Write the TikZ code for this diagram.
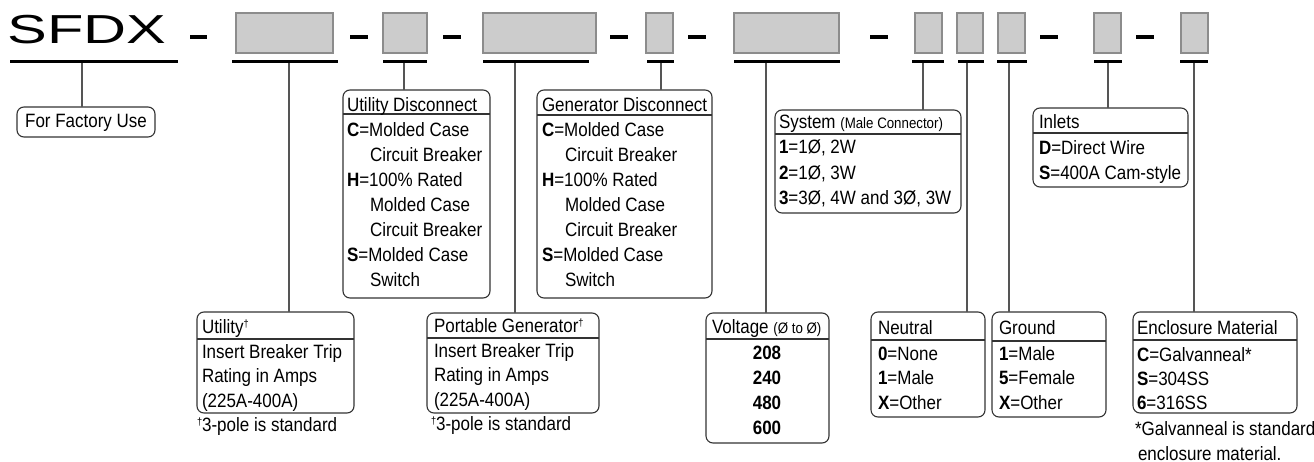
\documentclass[tikz,border=0pt]{standalone}
\usepackage{fontspec}
\setmainfont[FakeStretch=0.88]{Liberation Sans}
\newfontfamily\sfdxfont{Liberation Sans}
\usepackage{graphicx}
\definecolor{slotfill}{HTML}{CCCCCC}
\definecolor{slotline}{HTML}{8C8C8C}
\definecolor{framecol}{HTML}{333333}
\definecolor{conncol}{HTML}{555555}
\newcommand{\mainsz}{\fontsize{19.3}{25}\selectfont}
\newcommand{\smallsz}{\fontsize{15.1}{16}\selectfont}
\newcommand{\dg}{\raisebox{5.5pt}{\fontsize{10.5}{10.5}\selectfont †}}
\newcommand{\ind}{\hspace*{23pt}}
\tikzset{
  keyframe/.style={draw=framecol, line width=1.1pt, rounded corners=7pt, inner sep=0pt, outer sep=0pt},
  keysep/.style={draw=framecol, line width=1.1pt},
  slot/.style={draw=slotline, fill=slotfill, line width=1.6pt, inner sep=0pt, outer sep=0pt},
  bar/.style={fill=black, draw=none, inner sep=0pt, outer sep=0pt},
  conn/.style={draw=conncol, line width=1.2pt},
  txt/.style={inner sep=0pt, outer sep=0pt, font=\mainsz},
}
% name, x1, y1, x2, y2, sepY
\newcommand{\keybox}[6]{%
  \node[keyframe, anchor=north west, minimum width={(#4)-(#2)}, minimum height={(#5)-(#3)}] (#1) at (#2,#3) {};
  \draw[keysep] (#1.west |- 0,#6) -- (#1.east |- 0,#6);
}
% name, x1, x2, y, thickness
\newcommand{\ulbar}[5]{%
  \node[bar, minimum width={(#3)-(#2)}, minimum height=#5] (#1) at ({((#2)+(#3))/2},#4) {};
}
% name, x1, x2
\newcommand{\slotbox}[3]{%
  \node[slot, anchor=north west, minimum width={(#3)-(#2)}, minimum height=40] (#1) at (#2,13) {};
}
\begin{document}
\begin{tikzpicture}[x=1pt,y=-1pt]
\useasboundingbox (0,0) rectangle (1314,462);

% ---- code line ----
\node[inner sep=0pt, anchor=base west] (sfdx) at (7.3,44) {\scalebox{1.47}[1]{\sfdxfont\fontsize{40.5}{40.5}\selectfont SFDX}};

\slotbox{s1}{236}{333}
\slotbox{s2}{383}{427}
\slotbox{s3}{483}{596}
\slotbox{s4}{646}{673}
\slotbox{s5}{734}{839}
\slotbox{s6}{915}{942}
\slotbox{s7}{957}{983}
\slotbox{s8}{998}{1025}
\slotbox{s9}{1094}{1121}
\slotbox{s10}{1181}{1208}

\ulbar{d1}{190}{207}{37}{4}
\ulbar{d2}{350}{368}{37}{4}
\ulbar{d3}{443}{461}{37}{4}
\ulbar{d4}{610}{628}{37}{4}
\ulbar{d5}{688}{706}{37}{4}
\ulbar{d6}{870}{888}{37}{4}
\ulbar{d7}{1040}{1058}{37}{4}
\ulbar{d8}{1136}{1154}{37}{4}

% ---- key boxes ----
\keybox{factory}{17}{107}{155}{137}{-100}
\node[txt, anchor=base] (factoryt) at (86,128) {For Factory Use};

\keybox{udisc}{343}{90}{490}{298}{114}
\node[txt, anchor=base west] (udisch) at (347,112) {Utility Disconnect};
\node[txt, anchor=base west] (udiscc) at (347,137) {\begin{minipage}[t]{200pt}\mainsz
\textbf{C}=Molded Case\\
\ind Circuit Breaker\\
\textbf{H}=100\% Rated\\
\ind Molded Case\\
\ind Circuit Breaker\\
\textbf{S}=Molded Case\\
\ind Switch\end{minipage}};

\keybox{gdisc}{537}{90}{712}{298}{115}
\node[txt, anchor=base west] (gdisch) at (542,112) {Generator Disconnect};
\node[txt, anchor=base west] (gdiscc) at (542,137) {\begin{minipage}[t]{200pt}\mainsz
\textbf{C}=Molded Case\\
\ind Circuit Breaker\\
\textbf{H}=100\% Rated\\
\ind Molded Case\\
\ind Circuit Breaker\\
\textbf{S}=Molded Case\\
\ind Switch\end{minipage}};

\keybox{util}{197}{312}{354}{413}{339}
\node[txt, anchor=base west] (utilh) at (202,333) {Utility\dg};
\node[txt, anchor=base west] (utilc) at (202,358) {\begin{minipage}[t]{200pt}\fontsize{19.3}{24.5}\selectfont
Insert Breaker Trip\\
Rating in Amps\\
(225A-400A)\end{minipage}};
\node[txt, anchor=base west] (utilf) at (197,431) {\dg 3-pole is standard};

\keybox{port}{427}{313}{599}{413}{338}
\node[txt, anchor=base west] (porth) at (434,332) {Portable Generator\dg};
\node[txt, anchor=base west] (portc) at (434,357) {\begin{minipage}[t]{200pt}\fontsize{19.3}{24.5}\selectfont
Insert Breaker Trip\\
Rating in Amps\\
(225A-400A)\end{minipage}};
\node[txt, anchor=base west] (portf) at (431,430) {\dg 3-pole is standard};

\keybox{volt}{706}{313}{829}{443}{339}
\node[txt, anchor=base west] (volth) at (712,333) {Voltage {\smallsz(Ø to Ø)}};
\node[txt, anchor=base, font=\mainsz\bfseries] (v1) at (767,359) {208};
\node[txt, anchor=base, font=\mainsz\bfseries] (v2) at (767,384) {240};
\node[txt, anchor=base, font=\mainsz\bfseries] (v3) at (767,409) {480};
\node[txt, anchor=base, font=\mainsz\bfseries] (v4) at (767,434) {600};

\keybox{sys}{775}{110}{961}{213}{134}
\node[txt, anchor=base west] (sysh) at (779,129) {System {\smallsz(Male Connector)}};
\node[txt, anchor=base west] (sysc) at (779,154) {\begin{minipage}[t]{200pt}\fontsize{19.3}{25.5}\selectfont
\textbf{1}=1Ø, 2W\\
\textbf{2}=1Ø, 3W\\
\textbf{3}=3Ø, 4W and 3Ø, 3W\end{minipage}};

\keybox{inl}{1033}{108}{1188}{187}{133}
\node[txt, anchor=base west] (inlh) at (1039,129) {Inlets};
\node[txt, anchor=base west] (inlc) at (1039,155) {\begin{minipage}[t]{200pt}\mainsz
\textbf{D}=Direct Wire\\
\textbf{S}=400A Cam-style\end{minipage}};

\keybox{neu}{871}{312}{985}{417}{340}
\node[txt, anchor=base west] (neuh) at (878,334) {Neutral};
\node[txt, anchor=base west] (neuc) at (878,360) {\begin{minipage}[t]{100pt}\fontsize{19.3}{24.5}\selectfont
\textbf{0}=None\\
\textbf{1}=Male\\
\textbf{X}=Other\end{minipage}};

\keybox{gnd}{992}{312}{1106}{417}{341}
\node[txt, anchor=base west] (gndh) at (999,334) {Ground};
\node[txt, anchor=base west] (gndc) at (999,360) {\begin{minipage}[t]{100pt}\fontsize{19.3}{24.5}\selectfont
\textbf{1}=Male\\
\textbf{5}=Female\\
\textbf{X}=Other\end{minipage}};

\keybox{encl}{1133}{312}{1297}{413}{340}
\node[txt, anchor=base west] (enclh) at (1137,334) {Enclosure Material};
\node[txt, anchor=base west] (enclc) at (1137,361) {\begin{minipage}[t]{150pt}\fontsize{19.3}{24}\selectfont
\textbf{C}=Galvanneal*\\
\textbf{S}=304SS\\
\textbf{6}=316SS\end{minipage}};
\node[txt, anchor=base west] (enclf) at (1135,435) {\begin{minipage}[t]{200pt}\fontsize{19.3}{25}\selectfont
*Galvanneal is standard\\
\hspace*{3pt}enclosure material.\end{minipage}};

% ---- connectors ----
\coordinate (t0) at (82,62);
\coordinate (t1) at (289,62);
\coordinate (t2) at (404,62);
\coordinate (t3) at (515,62);
\coordinate (t4) at (661,62);
\coordinate (t5) at (766,62);
\coordinate (t6) at (923,62);
\coordinate (t7) at (967,62);
\coordinate (t8) at (1009,62);
\coordinate (t9) at (1108,62);
\coordinate (t10) at (1194,62);
\draw[conn] (t0) -- (t0 |- factory.north);
\draw[conn] (t1) -- (t1 |- util.north);
\draw[conn] (t2) -- (t2 |- udisc.north);
\draw[conn] (t3) -- (t3 |- port.north);
\draw[conn] (t4) -- (t4 |- gdisc.north);
\draw[conn] (t5) -- (t5 |- volt.north);
\draw[conn] (t6) -- (t6 |- sys.north);
\draw[conn] (t7) -- (t7 |- neu.north);
\draw[conn] (t8) -- (t8 |- gnd.north);
\draw[conn] (t9) -- (t9 |- inl.north);
\draw[conn] (t10) -- (t10 |- encl.north);

% ---- underlines ----
\ulbar{ul0}{10}{178}{62}{3}
\ulbar{ul1}{232}{338}{62}{3}
\ulbar{ul2}{383}{427}{62}{3}
\ulbar{ul3}{483}{589}{62}{3}
\ulbar{ul4}{647}{674}{62}{3}
\ulbar{ul5}{734}{840}{62}{3}
\ulbar{ul6}{912}{944}{62}{3}
\ulbar{ul7}{958}{984}{62}{3}
\ulbar{ul8}{997}{1027}{62}{3}
\ulbar{ul9}{1094}{1122}{62}{3}
\ulbar{ul10}{1180}{1208}{62}{3}
\end{tikzpicture}
\end{document}
